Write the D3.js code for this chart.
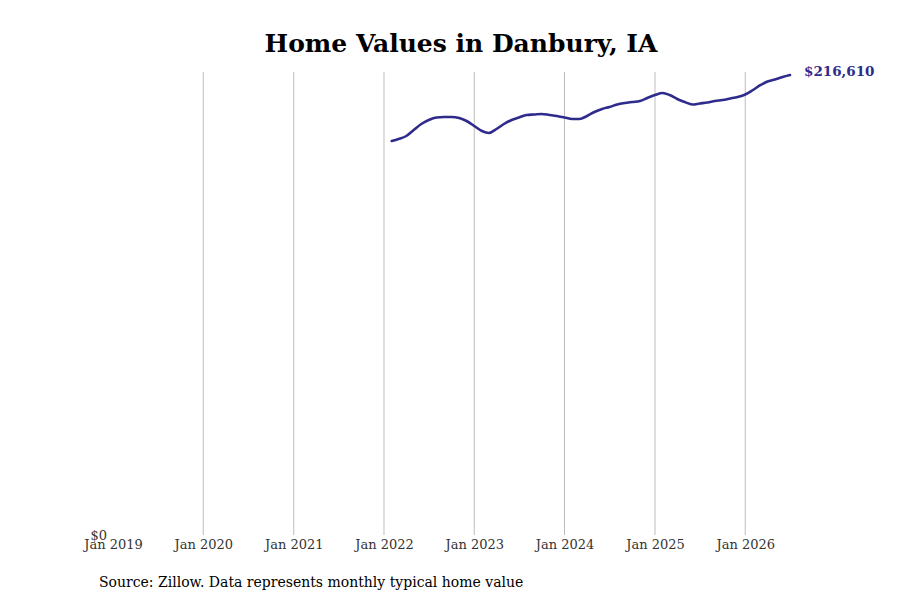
<!DOCTYPE html>
<html><head><meta charset="utf-8">
<script src="https://cdn.jsdelivr.net/npm/d3@7"></script>
<style>body{margin:0;background:#fff}svg{font-family:"DejaVu Serif",serif}</style>
</head><body><svg id="c" width="900" height="600"></svg>
<script>
const startMonth = "2022-02";
const values = [185533,186476,187889,190715,193540,195424,196601,196836,196836,196365,194953,
192598,190244,189302,191185,193540,195424,196601,197778,198014,198249,197778,197307,
196601,195894,195894,197307,199191,200603,201545,202722,203429,203900,204371,205783,
207196,208138,207196,205312,203900,202722,203194,203665,204371,204842,205548,206254,
207431,209551,211670,213554,214496,215673,216610];
const tickYears = [2019,2020,2021,2022,2023,2024,2025,2026];
const title = "Home Values in Danbury, IA";
const source = "Source: Zillow. Data represents monthly typical home value";

const parse = d3.timeParse("%Y-%m");
const t0 = parse(startMonth);
const data = values.map((v,i)=>({date:d3.timeMonth.offset(t0,i), value:v}));

const svg = d3.select("#c");
const x = d3.scaleTime().domain([new Date(2019,0,1), new Date(2026,6,1)]).range([113,790]);
const y = d3.scaleLinear().domain([0, d3.max(values)]).range([535,75]);

svg.append("text").attr("x",461).attr("y",52).attr("text-anchor","middle")
  .attr("font-size",25).attr("font-weight","bold").attr("fill","#000").text(title);

const ticks = tickYears.map(yr=>new Date(yr,0,1));
svg.append("g").selectAll("line").data(ticks.slice(1)).join("line")
  .attr("x1",d=>x(d)).attr("x2",d=>x(d)).attr("y1",72).attr("y2",535)
  .attr("stroke","#bdbdbd").attr("stroke-width",1);

const xAxis = svg.append("g").attr("transform","translate(0,535)")
  .call(d3.axisBottom(x).tickValues(ticks).tickFormat(d3.timeFormat("%b %Y")).tickSize(0).tickPadding(5));
xAxis.select(".domain").remove();
xAxis.selectAll("text").attr("font-size",13).attr("fill","#333").attr("font-family","DejaVu Serif, serif");

const yAxis = svg.append("g").attr("transform","translate(107,0)")
  .call(d3.axisLeft(y).tickValues([0]).tickFormat(d=>"$"+d3.format(",")(d)).tickSize(0).tickPadding(0));
yAxis.select(".domain").remove();
yAxis.selectAll("text").attr("font-size",13).attr("fill","#333").attr("font-family","DejaVu Serif, serif");

svg.append("path").datum(data)
  .attr("fill","none").attr("stroke","#2e2b8c").attr("stroke-width",2.6)
  .attr("stroke-linejoin","round").attr("stroke-linecap","round")
  .attr("d", d3.line().x(d=>x(d.date)).y(d=>y(d.value)).curve(d3.curveMonotoneX));

const last = data[data.length-1];
svg.append("text").attr("x",x(last.date)+14).attr("y",y(last.value)).attr("dy","0.05em")
  .attr("font-size",13.5).attr("font-weight","bold").attr("fill","#2e2b8c")
  .text("$"+d3.format(",")(last.value));

svg.append("text").attr("x",99).attr("y",587).attr("font-size",14).attr("fill","#000").text(source);
</script></body></html>
